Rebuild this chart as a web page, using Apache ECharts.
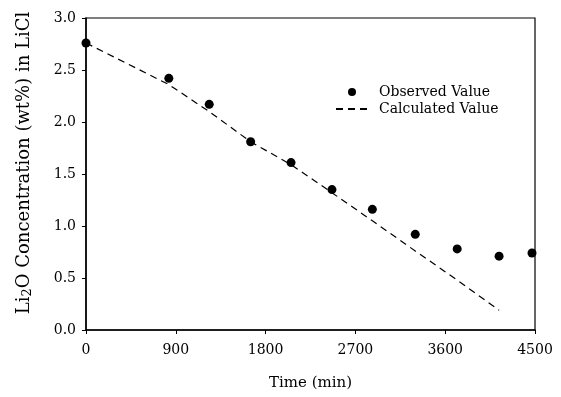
<!DOCTYPE html>
<html>
<head>
<meta charset="utf-8">
<script src="https://cdn.jsdelivr.net/npm/echarts@6/dist/echarts.min.js"></script>
<style>
  html, body { margin: 0; padding: 0; background: #fff; }
  #main { width: 561px; height: 397px; }
</style>
</head>
<body>
<div id="main"></div>
<script>
// observed Li2O concentration (wt%) vs time (min)
const obsTime = [0, 830, 1235, 1650, 2055, 2465, 2870, 3300, 3720, 4140, 4470];
const obsValue = [2.76, 2.42, 2.17, 1.81, 1.61, 1.35, 1.16, 0.92, 0.78, 0.71, 0.74];

// calculated curve
const calcTime = [0, 830, 1235, 1650, 2055, 2465, 2870, 3300, 3720, 4140];
const calcValue = [2.76, 2.36, 2.10, 1.81, 1.59, 1.32, 1.05, 0.76, 0.48, 0.19];

const xTicks = [0, 900, 1800, 2700, 3600, 4500];

const font = "DejaVu Serif";
const chart = echarts.init(document.getElementById("main"));

const option = {
  animation: false,
  textStyle: { fontFamily: font, color: "#000" },
  grid: {
    left: 86,
    right: 26,
    top: 18,
    bottom: 67,
    show: true,
    borderColor: "#000",
    borderWidth: 1.2,
  },
  legend: {
    orient: "vertical",
    left: 330,
    top: 80,
    itemGap: 3,
    itemWidth: 32,
    itemHeight: 8,
    textStyle: { fontFamily: font, fontSize: 14, lineHeight: 14, color: "#000", padding: [0, 0, 0, 6] },
    data: [
      { name: "Observed Value", icon: "circle" },
      { name: "Calculated Value", itemStyle: { opacity: 0 } },
    ],
  },
  xAxis: {
    type: "value",
    min: 0,
    max: 4500,
    interval: 900,
    name: "Time (min)",
    nameLocation: "middle",
    nameGap: 46,
    nameTextStyle: { fontFamily: font, fontSize: 15, color: "#000" },
    axisLine: { lineStyle: { color: "#000", width: 1.5 } },
    axisTick: { show: true, inside: false, length: 4, lineStyle: { color: "#000" } },
    axisLabel: {
      fontFamily: font, fontSize: 14, color: "#000", margin: 13,
      formatter: (v) => (xTicks.includes(v) ? String(v) : ""),
    },
    splitLine: { show: false },
  },
  yAxis: {
    type: "value",
    min: 0,
    max: 3,
    interval: 0.5,
    name: "Li{sub|2}O Concentration (wt%) in LiCl",
    nameLocation: "middle",
    nameRotate: 90,
    nameGap: 52,
    nameTextStyle: {
      fontFamily: font, fontSize: 18, color: "#000",
      padding: [0, 0, 0, 22],
      rich: {
        sub: { fontFamily: font, fontSize: 13, color: "#000", verticalAlign: "bottom", padding: [7, 0, 0, 0] },
      },
    },
    axisLine: { show: true, lineStyle: { color: "#000", width: 1.5 } },
    axisTick: { show: true, inside: false, length: 4, lineStyle: { color: "#000" } },
    axisLabel: {
      fontFamily: font, fontSize: 14, color: "#000", margin: 10,
      formatter: (v) => v.toFixed(1),
    },
    splitLine: { show: false },
  },
  series: [
    {
      name: "Calculated Value",
      type: "line",
      data: calcTime.map((t, i) => [t, calcValue[i]]),
      symbol: "none",
      smooth: false,
      lineStyle: { color: "#000", width: 1.2, type: [7, 5] },
      itemStyle: { color: "#000" },
      z: 2,
    },
    {
      name: "Observed Value",
      type: "scatter",
      data: obsTime.map((t, i) => [t, obsValue[i]]),
      symbol: "circle",
      symbolSize: 9,
      itemStyle: { color: "#000", opacity: 1 },
      z: 3,
    },
  ],
};

chart.setOption(option);
</script>
</body>
</html>
